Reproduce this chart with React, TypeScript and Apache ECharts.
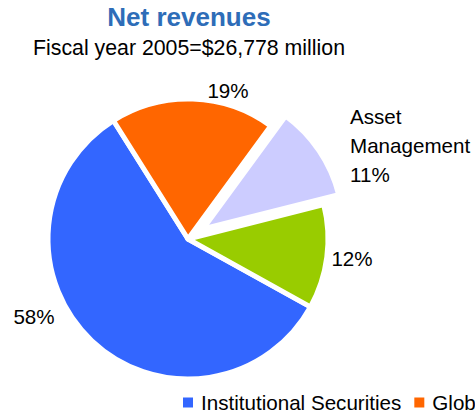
import React, { useEffect, useRef } from "react";
import * as echarts from "echarts";

const titleText = "Net revenues";
const subtitleText = "Fiscal year 2005=$26,778 million";
const segmentNames = [
  "Institutional Securities",
  "Global Wealth Management Group",
  "Asset Management",
  "Discover",
];
const segmentShares = [58, 19, 11, 12];
const segmentColors = ["#3366FF", "#FF6600", "#CCCCFF", "#99CC00"];
const showNameInLabel = [false, false, true, false];
const explodedSlice = [false, false, true, false];

// label anchor placements (layout only)
const labelAnchors: [number, number, string][] = [
  [34, 316, "center"],
  [228, 90, "center"],
  [350, 145.5, "left"],
  [352, 258, "center"],
];

const FONT = "'Liberation Sans', Arial, sans-serif";
const CENTER: [number, number] = [188, 239];
const START_ANGLE = -29;
const EXPLODE = 18;

export default function App() {
  const ref = useRef<HTMLDivElement>(null);
  useEffect(() => {
    if (!ref.current) return;
    const chart = echarts.init(ref.current, undefined, { renderer: "svg" });

    const total = segmentShares.reduce((a, b) => a + b, 0);
    const explodedCenters: [number, number][] = [];
    let acc = 90 - START_ANGLE; // clockwise degrees from 12 o'clock
    segmentShares.forEach((v) => {
      const span = (v / total) * 360;
      const mid = ((acc + span / 2) * Math.PI) / 180;
      explodedCenters.push([
        CENTER[0] + EXPLODE * Math.sin(mid),
        CENTER[1] - EXPLODE * Math.cos(mid),
      ]);
      acc += span;
    });

    const label = {
      show: true,
      position: "outside",
      fontFamily: FONT,
      fontSize: 20.6,
      color: "#000000",
      lineHeight: 29,
      formatter: (p: any) =>
        showNameInLabel[p.dataIndex]
          ? p.name.split(" ").join("\n") + "\n" + p.value + "%"
          : p.value + "%",
    };
    const labelLayout = (params: any) => {
      const a = labelAnchors[params.dataIndex];
      return { x: a[0], y: a[1], align: a[2], verticalAlign: "middle" };
    };

    const makeSeries = (center: [number, number], visible: (i: number) => boolean) => ({
      type: "pie",
      center,
      radius: 140,
      startAngle: START_ANGLE,
      clockwise: true,
      avoidLabelOverlap: false,
      label,
      labelLine: { show: false },
      labelLayout,
      emphasis: { disabled: true },
      data: segmentNames.map((name, i) => ({
        name,
        value: segmentShares[i],
        itemStyle: visible(i)
          ? { color: segmentColors[i], borderColor: "#ffffff", borderWidth: 5 }
          : { color: "transparent", borderWidth: 0 },
        label: { show: visible(i) },
      })),
    });

    const explodedIndex = explodedSlice.indexOf(true);

    chart.setOption({
      animation: false,
      backgroundColor: "#ffffff",
      title: {
        text: titleText,
        subtext: subtitleText,
        left: 189,
        top: 4,
        padding: 0,
        textAlign: "center",
        itemGap: 7,
        textStyle: {
          fontFamily: FONT,
          fontSize: 26,
          fontWeight: "bold",
          color: "#2E6DB8",
          lineHeight: 26,
        },
        subtextStyle: {
          fontFamily: FONT,
          fontSize: 21.3,
          color: "#000000",
          lineHeight: 21,
        },
      },
      legend: {
        left: 183,
        top: 392,
        width: 3000,
        orient: "horizontal",
        icon: "rect",
        itemWidth: 10,
        itemHeight: 10,
        itemGap: 13,
        padding: 0,
        data: segmentNames.map((name, i) => ({
          name,
          itemStyle: { color: segmentColors[i], borderWidth: 0 },
        })),
        textStyle: {
          fontFamily: FONT,
          fontSize: 20.6,
          color: "#000000",
          padding: [0, 0, 0, 3],
        },
      },
      series: [
        makeSeries(CENTER, (i) => !explodedSlice[i]),
        makeSeries(explodedCenters[explodedIndex], (i) => explodedSlice[i]),
      ],
    });
    return () => chart.dispose();
  }, []);
  return (
    <div
      ref={ref}
      style={{ position: "fixed", left: 0, top: 0, width: 475, height: 417 }}
    />
  );
}
